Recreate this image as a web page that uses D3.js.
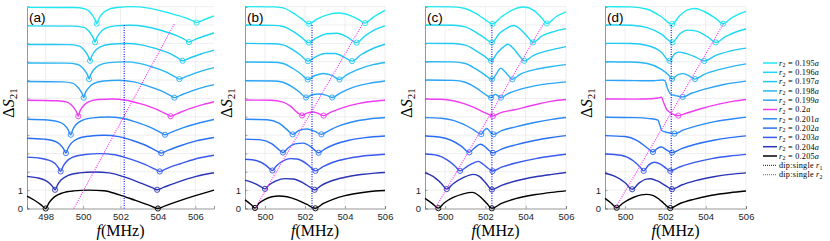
<!DOCTYPE html>
<html lang="en">
<head>
<meta charset="UTF-8">
<title>Delta S21 panels</title>
<script src="https://d3js.org/d3.v7.min.js"></script>
<style>
  body { margin: 0; background: #fff; }
  svg { display: block; }
</style>
</head>
<body>
<script>
// r2 values, top curve to bottom curve
const r2Labels = ["0.195", "0.196", "0.197", "0.198", "0.199", "0.2", "0.201", "0.202", "0.203", "0.204", "0.205"];
const offsets = [10, 9, 8, 7, 6, 5, 4, 3, 2, 1, 0];
const panelNames = ["(a)", "(b)", "(c)", "(d)"];
const yTickLabels = ["0", "1"];
const xTicksA = [498, 500, 502, 504, 506];
const xTicksBCD = [500, 502, 504, 506];

// [f (MHz), normalised dS21] for each r2, per panel
const curvesA = [
  [[497,0.96],[499.5,0.95],[500.1,0.88],[500.35,0.72],[500.55,0.45],[500.66,0.24],[500.73,0.07],[500.82,0.3],[500.95,0.52],[501.25,0.8],[501.8,0.95],[502.6,1.0],[503.5,0.92],[504.5,0.68],[505.4,0.42],[505.85,0.24],[506.07,0.13],[506.4,0.26],[507,0.5]],
  [[497,0.95],[499.4,0.94],[500.04,0.87],[500.26,0.72],[500.46,0.45],[500.57,0.24],[500.64,0.06],[500.73,0.3],[500.86,0.52],[501.16,0.8],[501.7,0.95],[502.5,0.99],[503.3,0.92],[504.2,0.7],[505,0.42],[505.45,0.2],[505.66,0.07],[506,0.22],[506.5,0.4],[507,0.57]],
  [[497,0.94],[499.2,0.93],[499.77,0.86],[499.99,0.71],[500.19,0.45],[500.3,0.24],[500.37,0.05],[500.46,0.3],[500.59,0.52],[500.89,0.8],[501.45,0.95],[502.3,0.99],[503.1,0.92],[503.9,0.71],[504.65,0.44],[505.1,0.18],[505.32,0.05],[505.7,0.2],[506.3,0.42],[507,0.63]],
  [[497,0.93],[499.1,0.92],[499.72,0.85],[499.94,0.7],[500.14,0.45],[500.25,0.24],[500.32,0.05],[500.41,0.3],[500.54,0.52],[500.84,0.8],[501.4,0.95],[502.2,0.99],[503,0.91],[503.7,0.71],[504.45,0.43],[504.93,0.17],[505.15,0.05],[505.5,0.19],[506.2,0.45],[507,0.68]],
  [[497,0.92],[498.9,0.9],[499.43,0.83],[499.65,0.68],[499.85,0.44],[499.96,0.24],[500.03,0.04],[500.12,0.3],[500.25,0.52],[500.55,0.8],[501.1,0.95],[501.9,0.99],[502.7,0.9],[503.4,0.7],[504.15,0.42],[504.66,0.16],[504.88,0.04],[505.2,0.17],[505.9,0.44],[507,0.75]],
  [[497,0.9],[498.6,0.87],[499.14,0.8],[499.36,0.65],[499.56,0.42],[499.67,0.22],[499.74,0.03],[499.83,0.3],[499.96,0.52],[500.26,0.8],[500.8,0.94],[501.6,0.97],[502.3,0.9],[503.1,0.7],[503.9,0.42],[504.45,0.15],[504.68,0.03],[505,0.16],[505.7,0.44],[506.4,0.66],[507,0.82]],
  [[497,0.86],[498.1,0.82],[498.7,0.72],[499.0,0.55],[499.2,0.3],[499.34,0.02],[499.45,0.3],[499.6,0.55],[499.95,0.8],[500.5,0.94],[501.3,0.99],[502.1,0.92],[502.8,0.72],[503.6,0.42],[504.15,0.14],[504.38,0.02],[504.7,0.15],[505.4,0.42],[506.2,0.66],[507,0.85]],
  [[497,0.83],[497.9,0.78],[498.45,0.68],[498.75,0.5],[498.95,0.26],[499.08,0.02],[499.2,0.3],[499.36,0.55],[499.7,0.8],[500.3,0.94],[501.1,0.99],[501.9,0.92],[502.6,0.72],[503.4,0.42],[503.95,0.13],[504.18,0.02],[504.5,0.15],[505.2,0.42],[506,0.67],[507,0.87]],
  [[497,0.8],[497.7,0.74],[498.2,0.62],[498.5,0.45],[498.68,0.22],[498.8,0.02],[498.93,0.3],[499.1,0.55],[499.45,0.8],[500.1,0.94],[500.9,0.99],[501.7,0.93],[502.5,0.7],[503.3,0.4],[503.87,0.13],[504.1,0.02],[504.4,0.15],[505.2,0.44],[506,0.7],[507,0.9]],
  [[497,0.75],[497.5,0.68],[497.95,0.55],[498.2,0.38],[498.38,0.18],[498.5,0.02],[498.64,0.3],[498.82,0.55],[499.2,0.8],[499.8,0.94],[500.6,0.99],[501.4,0.94],[502.2,0.72],[503.1,0.38],[503.72,0.12],[503.96,0.02],[504.3,0.15],[505.1,0.45],[506,0.74],[507,0.95]],
  [[497,0.68],[497.4,0.45],[497.75,0.2],[498,0],[498.18,0.32],[498.45,0.62],[498.9,0.85],[499.5,0.96],[500.3,1.0],[501.1,0.97],[501.9,0.76],[502.8,0.44],[503.55,0.17],[504,0],[504.35,0.13],[505.1,0.4],[506,0.7],[507,1.0]]
];
const dipsA = [[500.73,506.07],[500.64,505.66],[500.37,505.32],[500.32,505.15],[500.03,504.88],[499.74,504.68],[499.34,504.38],[499.08,504.18],[498.8,504.1],[498.5,503.96],[498,504]];

const curvesB = [
  [[499,1.0],[500.4,0.99],[500.9,0.93],[501.4,0.66],[501.8,0.36],[502.2,0.07],[502.6,0.32],[503.2,0.58],[503.7,0.65],[504.3,0.5],[504.75,0.25],[505,0.1],[505.4,0.42],[505.8,0.68],[506,0.8]],
  [[499,1.0],[500.4,0.98],[500.9,0.92],[501.4,0.65],[501.8,0.35],[502.18,0.04],[502.55,0.28],[503.1,0.52],[503.6,0.55],[504.1,0.35],[504.58,0.04],[505,0.4],[505.5,0.75],[506,0.95]],
  [[499,1.0],[500.4,0.98],[500.9,0.92],[501.4,0.64],[501.8,0.34],[502.15,0.03],[502.5,0.25],[503,0.45],[503.5,0.45],[504,0.22],[504.35,0.03],[504.8,0.38],[505.4,0.72],[506,0.95]],
  [[499,0.98],[500.4,0.97],[500.9,0.9],[501.4,0.63],[501.8,0.33],[502.14,0.03],[502.45,0.22],[502.9,0.36],[503.35,0.25],[503.73,0.03],[504.1,0.3],[504.7,0.6],[505.4,0.84],[506,0.96]],
  [[499,0.96],[500.4,0.95],[500.9,0.88],[501.4,0.6],[501.75,0.32],[502.05,0.05],[502.35,0.2],[502.7,0.24],[503.05,0.18],[503.36,0.05],[503.8,0.32],[504.4,0.6],[505.2,0.82],[506,0.95]],
  [[499,0.91],[500.3,0.9],[500.9,0.8],[501.3,0.55],[501.6,0.25],[501.85,0.07],[502.1,0.2],[502.4,0.26],[502.7,0.16],[502.93,0.06],[503.3,0.25],[503.9,0.5],[504.6,0.7],[505.3,0.83],[506,0.9]],
  [[499,0.86],[500.1,0.84],[500.7,0.65],[501.1,0.3],[501.38,0.04],[501.7,0.25],[502.1,0.33],[502.5,0.2],[502.82,0.04],[503.2,0.25],[503.7,0.5],[504.4,0.73],[505.2,0.88],[506,0.96]],
  [[499,0.78],[499.8,0.74],[500.35,0.52],[500.7,0.2],[500.9,0.05],[501.15,0.3],[501.5,0.52],[501.9,0.56],[502.3,0.36],[502.55,0.12],[502.68,0.04],[503,0.25],[503.5,0.5],[504.2,0.72],[505,0.86],[506,0.95]],
  [[499,0.68],[499.6,0.6],[500.05,0.35],[500.25,0.16],[500.37,0.07],[500.55,0.3],[500.85,0.56],[501.25,0.72],[501.6,0.7],[502.1,0.42],[502.35,0.18],[502.52,0.05],[502.9,0.28],[503.4,0.52],[504.1,0.72],[504.9,0.86],[506,0.96]],
  [[499,0.55],[499.5,0.36],[499.85,0.15],[500,0.07],[500.2,0.28],[500.55,0.5],[501,0.63],[501.4,0.61],[501.9,0.4],[502.25,0.16],[502.48,0.02],[502.8,0.25],[503.3,0.5],[504,0.7],[504.8,0.85],[505.5,0.93],[506,0.96]],
  [[499,0.47],[499.3,0.22],[499.5,0.03],[499.7,0.28],[500,0.5],[500.35,0.64],[500.7,0.68],[501.1,0.64],[501.6,0.47],[502.1,0.22],[502.52,0.01],[502.9,0.26],[503.4,0.5],[504,0.7],[504.8,0.86],[505.5,0.95],[506,0.98]]
];
const dipsB = [[502.2,505],[502.18,504.58],[502.15,504.35],[502.14,503.73],[502.05,503.36],[501.85,502.93],[501.38,502.82],[500.9,502.68],[500.37,502.52],[500,502.48],[499.5,502.52]];

const curvesC = [
  [[499,1.0],[500.4,0.99],[501,0.9],[501.5,0.65],[501.95,0.32],[502.35,0.06],[502.8,0.45],[503.3,0.8],[503.9,0.98],[504.4,0.8],[504.8,0.38],[505.05,0.08],[505.5,0.45],[506,0.72]],
  [[499,1.0],[500.4,0.99],[501,0.9],[501.5,0.62],[501.95,0.3],[502.32,0.05],[502.7,0.55],[503.1,0.85],[503.4,0.97],[503.75,0.75],[504.1,0.35],[504.36,0.05],[504.8,0.4],[505.4,0.64],[506,0.8]],
  [[499,1.0],[500.4,0.99],[501,0.9],[501.5,0.62],[501.95,0.3],[502.28,0.05],[502.6,0.5],[502.95,0.85],[503.12,0.95],[503.4,0.7],[503.7,0.3],[503.93,0.05],[504.4,0.35],[505.1,0.6],[506,0.82]],
  [[499,1.0],[500.4,0.99],[501,0.9],[501.5,0.62],[501.95,0.3],[502.32,0.04],[502.55,0.35],[502.75,0.65],[502.95,0.48],[503.15,0.24],[503.34,0.04],[503.7,0.3],[504.5,0.58],[505.3,0.74],[506,0.84]],
  [[499,1.0],[500.4,0.98],[501,0.88],[501.55,0.56],[502.05,0.18],[502.28,0.04],[502.4,0.16],[502.5,0.22],[502.62,0.14],[502.77,0.04],[503.1,0.25],[503.8,0.52],[504.8,0.75],[506,0.9]],
  [[499,0.97],[499.8,0.95],[500.4,0.87],[500.9,0.73],[501.4,0.52],[501.8,0.31],[502.15,0.13],[502.37,0.04],[502.7,0.2],[503.4,0.37],[504.4,0.64],[505.3,0.85],[506,0.94]],
  [[499,0.95],[499.8,0.92],[500.4,0.8],[500.9,0.6],[501.4,0.3],[501.79,0.05],[501.95,0.28],[502.07,0.36],[502.22,0.2],[502.4,0.04],[502.8,0.24],[503.5,0.45],[504.5,0.7],[505.3,0.86],[506,0.96]],
  [[499,0.95],[499.7,0.9],[500.3,0.72],[500.8,0.4],[501.2,0.06],[501.45,0.3],[501.75,0.5],[502,0.35],[502.2,0.15],[502.37,0.03],[502.8,0.24],[503.5,0.47],[504.5,0.72],[505.3,0.87],[506,0.97]],
  [[499,0.97],[499.6,0.9],[500.1,0.65],[500.5,0.3],[500.74,0.05],[501.1,0.3],[501.45,0.5],[501.65,0.57],[501.9,0.4],[502.15,0.18],[502.35,0.04],[502.8,0.25],[503.5,0.48],[504.5,0.72],[505.3,0.86],[506,0.96]],
  [[499,0.95],[499.4,0.75],[499.8,0.38],[500.08,0.06],[500.4,0.35],[500.9,0.68],[501.4,0.86],[501.7,0.75],[502.05,0.35],[502.32,0.03],[502.8,0.26],[503.5,0.5],[504.5,0.73],[505.3,0.86],[506,0.96]],
  [[499,0.55],[499.35,0.28],[499.66,0.02],[499.95,0.3],[500.4,0.6],[500.9,0.8],[501.35,0.88],[501.7,0.68],[502.05,0.3],[502.32,0.01],[502.8,0.28],[503.5,0.54],[504.5,0.76],[505.3,0.88],[506,0.96]]
];
const dipsC = [[502.35,505.05],[502.32,504.36],[502.28,503.93],[502.32,503.34],[502.28,502.77],[502.37],[501.79,502.4],[501.2,502.37],[500.74,502.35],[500.08,502.32],[499.66,502.32]];

const curvesD = [
  [[499,1.0],[500.3,0.99],[501.1,0.86],[501.8,0.45],[502.33,0.05],[502.7,0.5],[503.1,0.82],[503.45,0.9],[503.9,0.75],[504.5,0.35],[504.86,0.07],[505.3,0.4],[505.7,0.62],[506,0.74]],
  [[499,1.0],[500.3,0.99],[501.1,0.86],[501.8,0.5],[502.35,0.06],[502.7,0.5],[503.1,0.72],[503.5,0.68],[504.1,0.35],[504.5,0.05],[505,0.38],[505.5,0.62],[506,0.78]],
  [[499,1.0],[500.3,0.99],[501.1,0.88],[501.8,0.52],[502.2,0.05],[502.45,0.42],[502.65,0.52],[503,0.45],[503.5,0.25],[503.93,0.04],[504.5,0.35],[505.2,0.58],[506,0.74]],
  [[499,1.0],[500.3,0.98],[501.1,0.9],[501.8,0.58],[502.15,0.28],[502.33,0.06],[502.6,0.28],[502.9,0.35],[503.2,0.22],[503.47,0.05],[503.9,0.3],[504.7,0.58],[505.4,0.76],[506,0.88]],
  [[499,0.98],[500.5,0.97],[501.4,0.96],[501.85,1.0],[501.97,0.97],[502.1,0.55],[502.25,0.24],[502.55,0.14],[502.86,0.08],[503.3,0.28],[504,0.52],[504.9,0.76],[506,0.94]],
  [[499,0.97],[500.5,0.96],[501.3,0.98],[501.65,1.03],[501.8,1.06],[501.92,0.75],[502.05,0.42],[502.25,0.22],[502.64,0.06],[503.1,0.22],[503.8,0.45],[504.7,0.7],[505.4,0.85],[506,0.94]],
  [[499,0.97],[500.5,0.95],[501.2,0.9],[501.63,0.82],[501.72,0.55],[501.82,0.25],[502.1,0.14],[502.45,0.08],[502.9,0.28],[503.6,0.52],[504.5,0.75],[505.3,0.88],[506,0.98]],
  [[499,0.97],[500,0.92],[500.6,0.7],[501.1,0.3],[501.38,0.08],[501.6,0.28],[501.8,0.35],[502.05,0.2],[502.33,0.05],[502.8,0.26],[503.5,0.5],[504.4,0.72],[505.2,0.86],[506,0.96]],
  [[499,0.97],[499.8,0.9],[500.4,0.6],[500.75,0.25],[500.92,0.05],[501.15,0.35],[501.45,0.52],[501.75,0.42],[502.05,0.18],[502.24,0.05],[502.7,0.26],[503.4,0.5],[504.3,0.72],[505.2,0.86],[506,0.95]],
  [[499,0.92],[499.5,0.75],[500,0.4],[500.35,0.05],[500.7,0.4],[501.05,0.6],[501.25,0.62],[501.6,0.5],[502,0.25],[502.33,0.05],[502.8,0.28],[503.5,0.52],[504.4,0.73],[505.2,0.86],[506,0.94]],
  [[499,0.55],[499.3,0.3],[499.58,0.04],[499.9,0.3],[500.4,0.6],[500.8,0.74],[501.05,0.77],[501.4,0.7],[501.8,0.4],[502.05,0.15],[502.24,0.02],[502.7,0.26],[503.4,0.5],[504.3,0.72],[505.2,0.86],[506,0.95]]
];
const dipsD = [[502.33,504.86],[502.35,504.5],[502.2,503.93],[502.33,503.47],[502.86],[502.64],[502.45],[501.38,502.33],[500.92,502.24],[500.35,502.33],[499.58,502.24]];

// dip of single r1 (vertical line) per panel, and dip of single r2 (diagonal)
const r1Dip = [502.2, 502.35, 502.32, 502.29];
const r1DipTop = 10.05;
const r2DipLine = [[499.5, 0], [504.9, 10.1]];

const colors = ["#1ee8f0", "#1cd8f2", "#22c8f4", "#28b6f4", "#2ca4f6", "#f03cf0",
                "#2b8af6", "#2a6ef4", "#3858ee", "#2a34b4", "#000000"];
const r1Color = "#2a2af0", r2Color = "#ff2cff";

const w = 830, h = 241;
const svg = d3.select("body").append("svg").attr("width", w).attr("height", h);

const yScale = d3.scaleLinear().domain([0, 11]).range([208.5, 6.65]);

const panels = [
  {name: panelNames[0], dom: [497, 507], px: [27, 214], ticks: xTicksA, curves: curvesA, dips: dipsA, r1: r1Dip[0]},
  {name: panelNames[1], dom: [499, 506], px: [245, 385], ticks: xTicksBCD, curves: curvesB, dips: dipsB, r1: r1Dip[1]},
  {name: panelNames[2], dom: [499, 506], px: [425, 566], ticks: xTicksBCD, curves: curvesC, dips: dipsC, r1: r1Dip[2]},
  {name: panelNames[3], dom: [499, 506], px: [605, 746], ticks: xTicksBCD, curves: curvesD, dips: dipsD, r1: r1Dip[3]}
];

const sans = "'Liberation Sans', Arial, sans-serif";
const serif = "'Liberation Serif', 'Times New Roman', serif";

panels.forEach(p => {
  const x = d3.scaleLinear().domain(p.dom).range(p.px);
  const g = svg.append("g");
  const [y0, y1] = yScale.range();

  // grid
  g.selectAll(".gx").data(p.ticks).enter().append("line")
    .attr("x1", d => x(d)).attr("x2", d => x(d))
    .attr("y1", y0).attr("y2", y1)
    .attr("stroke", "#e3e3e3").attr("stroke-width", 0.6);
  g.selectAll(".gy").data(d3.range(1, 12)).enter().append("line")
    .attr("x1", p.px[0]).attr("x2", p.px[1])
    .attr("y1", d => yScale(d)).attr("y2", d => yScale(d))
    .attr("stroke", "#e3e3e3").attr("stroke-width", 0.6);

  // axes
  const xAxis = d3.axisBottom(x).tickValues(p.ticks).tickSize(-2.5).tickPadding(5).tickFormat(d3.format("d"));
  const yAxis = d3.axisLeft(yScale).tickValues(d3.range(0, 12)).tickSize(-2.5).tickPadding(4)
    .tickFormat(d => d < yTickLabels.length ? yTickLabels[d] : "");
  const gx = g.append("g").attr("transform", `translate(0,${y0})`).call(xAxis);
  const gy = g.append("g").attr("transform", `translate(${p.px[0]},0)`).call(yAxis);
  [gx, gy].forEach(a => {
    a.select(".domain").attr("stroke", "#6a6a6a").attr("stroke-width", 0.7);
    a.selectAll(".tick line").attr("stroke", "#6a6a6a").attr("stroke-width", 0.6);
    a.selectAll("text").attr("fill", "#262626").style("font-family", sans).style("font-size", "9.5px");
  });

  // curves
  const line = d3.line()
    .x(d => x(d[0]))
    .curve(d3.curveMonotoneX);
  p.curves.forEach((c, k) => {
    g.append("path")
      .attr("d", line.y(d => yScale(d[1] + offsets[k]))(c))
      .attr("fill", "none").attr("stroke", colors[k]).attr("stroke-width", 1.4);
  });

  // dip markers
  p.dips.forEach((fs, k) => {
    fs.forEach(f => {
      const pt = p.curves[k].find(d => d[0] === f);
      g.append("circle")
        .attr("cx", x(f)).attr("cy", yScale(pt[1] + offsets[k])).attr("r", 2.6)
        .attr("fill", "none").attr("stroke", colors[k]).attr("stroke-width", 0.9);
    });
  });

  // dip of single r1 / r2
  g.append("line")
    .attr("x1", x(p.r1)).attr("x2", x(p.r1))
    .attr("y1", yScale(0)).attr("y2", yScale(r1DipTop))
    .attr("stroke", r1Color).attr("stroke-width", 1.3).attr("stroke-dasharray", "1,1.4");
  g.append("path")
    .attr("d", d3.line().x(d => x(d[0])).y(d => yScale(d[1]))(r2DipLine))
    .attr("fill", "none").attr("stroke", r2Color).attr("stroke-width", 1.1).attr("stroke-dasharray", "1,1.2");

  // panel tag
  g.append("text").attr("x", p.px[0] + 2).attr("y", 22).text(p.name)
    .style("font-family", sans).style("font-size", "13.5px").attr("fill", "#000");

  // x label
  const xl = g.append("text").attr("x", (p.px[0] + p.px[1]) / 2).attr("y", 236)
    .attr("text-anchor", "middle").style("font-family", serif).style("font-size", "16px");
  xl.append("tspan").attr("font-style", "italic").text("f");
  xl.append("tspan").text("(MHz)");

  // y label
  const yl = g.append("text")
    .attr("transform", `translate(${p.px[0] - 13},103) rotate(-90)`)
    .attr("text-anchor", "middle").style("font-family", serif).style("font-size", "16px");
  yl.append("tspan").text("Δ");
  yl.append("tspan").attr("font-style", "italic").text("S");
  yl.append("tspan").attr("dy", 3).style("font-size", "11px").text("21");
});

// legend
const legend = svg.append("g").attr("transform", "translate(763,63)");
const legendRows = r2Labels.map((r, k) => ({r: r, color: colors[k], dash: null}))
  .concat([{r1: true, color: r1Color, dash: "1,1"}, {r2: true, color: r2Color, dash: "1,1"}]);
legendRows.forEach((d, i) => {
  const yy = i * 9.3;
  legend.append("line").attr("x1", 0).attr("x2", 14).attr("y1", yy).attr("y2", yy)
    .attr("stroke", d.color).attr("stroke-width", d.dash ? 1.2 : 1.5)
    .attr("stroke-dasharray", d.dash);
  const t = legend.append("text").attr("x", 16).attr("y", yy + 2.8)
    .style("font-family", serif).style("font-size", "8.2px")
    .style("letter-spacing", "0.25px").attr("fill", "#000");
  if (d.dash) {
    t.append("tspan").text("dip:single ");
    t.append("tspan").attr("font-style", "italic").text("r");
    t.append("tspan").attr("dy", 1.5).style("font-size", "6px").text(d.r1 ? "1" : "2");
  } else {
    t.append("tspan").attr("font-style", "italic").text("r");
    t.append("tspan").attr("dy", 1.5).style("font-size", "6px").text("2");
    t.append("tspan").attr("dy", -1.5).text(" = " + d.r);
    t.append("tspan").attr("font-style", "italic").text("a");
  }
});
</script>
</body>
</html>
